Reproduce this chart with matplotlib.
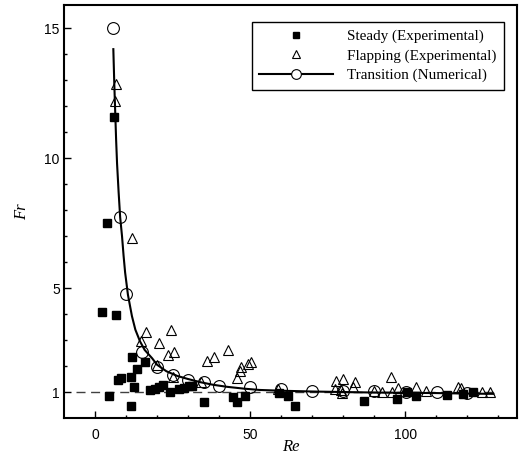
import numpy as np
import matplotlib
matplotlib.use('Agg')
import matplotlib.pyplot as plt
from matplotlib.lines import Line2D

# Steady (Experimental)
steady_re = [2.3, 4.0, 6.0, 6.8, 4.4, 7.5, 8.4, 11.8, 16.1, 13.5, 11.6, 12.6, 11.6,
             17.7, 19.4, 20.6, 21.8, 24.2, 27.1, 28.8, 30.4, 31.4, 35.0, 44.5, 45.8,
             48.4, 59.4, 62.3, 64.5, 86.8, 97.4, 100.6, 103.5, 113.5, 118.6, 121.9]
steady_fr = [4.1, 7.5, 11.6, 3.95, 0.85, 1.45, 1.55, 2.35, 2.15, 1.87, 1.56, 1.21, 0.46,
             1.06, 1.1, 1.19, 1.27, 1.0, 1.1, 1.17, 1.23, 1.25, 0.62, 0.81, 0.62,
             0.85, 0.95, 0.85, 0.48, 0.67, 0.75, 1.0, 0.83, 0.88, 0.92, 1.0]

# Flapping (Experimental)
flap_re = [6.8, 6.5, 11.9, 16.4, 14.8, 24.5, 20.6, 25.5, 23.5, 20.0, 25.2, 34.0,
           36.1, 38.5, 42.8, 47.2, 46.8, 45.9, 49.2, 50.4, 59.0, 77.8, 80.0, 83.9,
           77.3, 79.7, 83.2, 79.2, 95.4, 89.8, 92.5, 95.6, 97.7, 103.4, 106.8,
           116.9, 118.0, 124.8, 127.2]
flap_fr = [12.85, 12.2, 6.92, 3.3, 2.96, 3.38, 2.87, 2.56, 2.44, 2.05, 1.56, 1.4,
           2.2, 2.35, 2.61, 1.96, 1.81, 1.54, 2.06, 2.14, 1.12, 1.44, 1.52, 1.38,
           1.13, 0.96, 1.19, 1.08, 1.58, 1.04, 1.02, 1.0, 1.15, 1.21, 1.04,
           1.19, 1.17, 1.0, 1.0]

# Transition (Numerical) points
trans_re = [5.8, 8.1, 10.0, 15.0, 20.0, 25.2, 30.0, 35.0, 39.8, 50.0, 60.0, 70.0,
            80.0, 90.0, 100.2, 110.2, 120.0]
trans_fr = [15.0, 7.73, 4.77, 2.56, 1.96, 1.65, 1.46, 1.37, 1.25, 1.19, 1.13, 1.04,
            1.04, 1.04, 1.0, 1.0, 0.96]

# transition curve
curve_re = [5.9, 6.2, 6.5, 6.8, 7.1, 7.6, 8.1, 8.7, 9.2, 9.7, 10.6, 11.3, 11.9, 13.0,
            14.5, 16.0, 18.4, 20.0, 23.0, 26.5, 30.0, 33.9, 38.0, 42.6, 48.0, 53.0,
            60.0, 70.0, 80.0, 90.0, 100.0, 110.0, 120.0, 128.4]
curve_fr = [14.2, 12.9, 11.8, 10.7, 9.8, 8.7, 7.73, 7.0, 6.25, 5.6, 4.75, 4.3, 3.92, 3.4,
            2.95, 2.62, 2.3, 2.05, 1.8, 1.62, 1.5, 1.38, 1.28, 1.2, 1.13, 1.08,
            1.05, 1.02, 1.0, 0.98, 0.97, 0.96, 0.94, 0.93]

ref_re = [-6, 130]
ref_fr = [1, 1]

fig = plt.figure(figsize=(5.19, 4.57), dpi=100)
ax = fig.add_axes([64 / 519, 1 - 418 / 457, 453 / 519, 413 / 457])

ax.plot(ref_re, ref_fr, '--', color='#404040', linewidth=1, dashes=(6.5, 4))
ax.plot(curve_re, curve_fr, '-', color='black', linewidth=1.5)
ax.plot(trans_re, trans_fr, 'o', mfc='none', mec='black', mew=0.8, markersize=8.5)
ax.plot(flap_re, flap_fr, '^', mfc='none', mec='black', mew=0.8, markersize=7.5)
ax.plot(steady_re, steady_fr, 's', color='black', markersize=5.5)

ax.set_xlim(-10, 136)
ax.set_ylim(0, 15.9)
ax.set_xticks([0, 50, 100])
ax.set_xticks(np.arange(10, 131, 10), minor=True)
ax.set_yticks([1, 5, 10, 15])
ax.set_yticks(np.arange(2, 16, 1), minor=True)

for s in ax.spines.values():
    s.set_linewidth(1.5)
ax.tick_params(which='both', direction='in', top=False, right=False, width=1)
ax.tick_params(which='major', length=5)
ax.tick_params(which='minor', length=2.5)
ax.tick_params(axis='x', pad=7)
ax.tick_params(axis='y', pad=3)
for lab in ax.get_xticklabels() + ax.get_yticklabels():
    lab.set_fontfamily('Liberation Sans')
    lab.set_fontsize(10)

ax.set_xlabel('Re', fontfamily='Liberation Serif', fontstyle='italic', fontsize=12, labelpad=-2)
ax.set_ylabel('Fr', fontfamily='Liberation Serif', fontstyle='italic', fontsize=12, labelpad=10)

handles = [
    Line2D([], [], linestyle='none', marker='s', color='black', markersize=5),
    Line2D([], [], linestyle='none', marker='^', mfc='none', mec='black', mew=0.8, markersize=6),
    Line2D([], [], linestyle='-', color='black', linewidth=1.5, marker='o', mfc='white',
           mec='black', mew=0.8, markersize=7),
]
labels = ['Steady (Experimental)', 'Flapping (Experimental)', 'Transition (Numerical)']
leg = ax.legend(handles, labels, loc='upper right', bbox_to_anchor=(504 / 519, 1 - 22 / 457),
                bbox_transform=fig.transFigure, prop={'family': 'Liberation Serif', 'size': 10.9},
                fancybox=False, edgecolor='black', framealpha=1, handlelength=4.9,
                handletextpad=0.9, labelspacing=0.38, borderpad=0.5, borderaxespad=0)
leg.get_frame().set_linewidth(1)

fig.savefig('out.png', dpi=100)
